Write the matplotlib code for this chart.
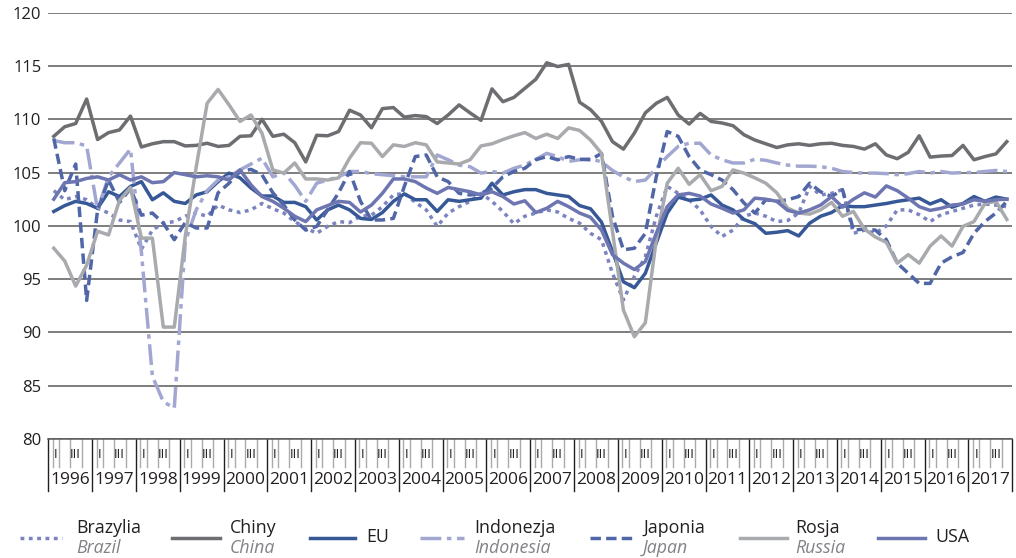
import matplotlib
matplotlib.use("Agg")
import matplotlib.pyplot as plt
import matplotlib.transforms as mtransforms
from matplotlib.lines import Line2D
import numpy as np

plt.rcParams['font.family'] = ['Open Sans', 'DejaVu Sans']

# quarterly index values, 1996 Q1 .. 2017 Q4
years = list(range(1996, 2018))
quarter_labels = ["I", "III"]
labels_pl = ["Brazylia", "Chiny", "EU", "Indonezja", "Japonia", "Rosja", "USA"]
labels_en = ["Brazil", "China", "", "Indonesia", "Japan", "Russia", ""]

brazylia = [103.3, 102.45, 102.75, 102.45, 101.65, 101.2, 100.55, 100.4,
            97.8, 99.6, 100.25, 100.4, 100.9, 101.2, 100.9, 101.95,
            101.5, 101.25, 101.5, 102.1, 101.6, 101.2, 100.4, 99.8,
            99.3, 99.95, 100.4, 100.3, 100.9, 101.0, 101.8, 102.9,
            103.05, 102.2, 101.5, 99.95, 101.2, 101.8, 102.3, 103.05,
            102.3, 101.35, 100.2, 100.9, 101.2, 101.5, 101.3, 100.7,
            100.25, 99.3, 98.7, 95.55, 93.05, 95.25, 97.1, 100.9,
            103.7, 103.05, 102.45, 101.5, 99.95, 99.0, 99.6, 100.9,
            101.2, 100.9, 100.4, 100.5, 101.2, 103.7, 102.9, 103.05,
            103.4, 99.3, 99.6, 99.3, 100.0, 101.5, 101.5, 101.05,
            100.4, 101.05, 101.35, 101.65, 101.95, 102.05, 101.95, 101.8]

chiny = [108.4, 109.3, 109.6, 111.9, 108.1, 108.75, 109.0, 110.3,
         107.4, 107.7, 107.9, 107.9, 107.5, 107.55, 107.75, 107.45,
         107.55, 108.4, 108.45, 110.0, 108.4, 108.6, 107.8, 106.0,
         108.5, 108.45, 108.85, 110.85, 110.4, 109.2, 111.0, 111.1,
         110.2, 110.35, 110.25, 109.6, 110.4, 111.35, 110.6, 109.9,
         112.85, 111.65, 112.05, 112.9, 113.75, 115.3, 114.95, 115.15,
         111.6, 110.9, 109.8, 107.9, 107.2, 108.7, 110.6, 111.5,
         112.05, 110.4, 109.55, 110.55, 109.8, 109.65, 109.4, 108.55,
         108.05, 107.7, 107.35, 107.6, 107.7, 107.55, 107.7, 107.75,
         107.55, 107.45, 107.2, 107.7, 106.65, 106.3, 106.9, 108.45,
         106.45, 106.55, 106.6, 107.55, 106.2, 106.5, 106.75, 107.9]

eu = [101.35, 101.9, 102.3, 102.1, 101.65, 103.2, 102.75, 103.7,
      104.15, 102.45, 103.1, 102.3, 102.1, 102.9, 103.2, 104.15,
      104.95, 104.5, 103.55, 102.8, 102.8, 102.2, 102.2, 101.8,
      100.55, 101.5, 101.95, 101.5, 100.7, 100.6, 101.25, 102.3,
      103.0, 102.45, 102.45, 101.35, 102.45, 102.3, 102.45, 102.6,
      104.0, 102.9, 103.2, 103.4, 103.4, 103.05, 102.9, 102.75,
      101.9, 101.6, 100.35, 97.6, 94.75, 94.2, 95.55, 98.4,
      101.2, 102.7, 102.4, 102.5, 102.9, 101.95, 101.5, 100.6,
      100.2, 99.3, 99.4, 99.55, 99.05, 100.25, 100.9, 101.25,
      101.9, 101.8, 101.8, 101.95, 102.1, 102.3, 102.45, 102.6,
      102.05, 102.45, 101.75, 102.1, 102.75, 102.3, 102.7, 102.5]

indonezja = [108.0, 107.8, 107.8, 107.5, 101.5, 104.6, 105.9, 107.2,
             97.5, 85.9, 83.5, 82.9, 98.5, 101.5, 103.3, 104.3,
             104.6, 105.25, 105.8, 106.35, 104.6, 105.0, 103.8, 102.3,
             104.0, 104.3, 104.6, 105.1, 105.1, 104.9, 104.8, 104.7,
             104.6, 104.6, 104.6, 106.65, 106.2, 105.7, 105.55, 104.95,
             105.1, 104.95, 105.4, 105.7, 106.25, 106.8, 106.5, 106.05,
             106.2, 106.3, 106.0, 105.2, 104.6, 104.15, 104.3, 105.4,
             106.5, 107.45, 107.75, 107.75, 106.65, 106.2, 105.9, 105.9,
             106.25, 106.15, 105.9, 105.7, 105.6, 105.6, 105.55, 105.4,
             105.1, 105.0, 104.95, 104.95, 104.9, 104.8, 104.9, 105.1,
             104.95, 105.1, 104.95, 105.0, 105.0, 105.1, 105.2, 105.1]

japonia = [108.2, 103.3, 105.8, 93.0, 101.5, 104.3, 102.2, 103.5,
           101.0, 101.2, 100.25, 98.7, 100.3, 99.8, 99.8, 103.1,
           104.0, 105.1, 105.3, 104.8, 103.1, 101.95, 100.55, 99.6,
           99.95, 101.5, 103.1, 105.1, 102.3, 100.55, 100.55, 100.7,
           103.7, 106.5, 106.65, 104.6, 104.15, 103.05, 102.9, 103.05,
           103.55, 104.6, 105.1, 105.4, 106.2, 106.5, 106.2, 106.5,
           106.25, 106.2, 106.8, 100.9, 97.75, 97.9, 99.3, 104.6,
           108.85, 108.4, 106.5, 105.25, 104.8, 104.3, 103.4, 102.15,
           101.2, 102.45, 102.3, 102.45, 102.75, 104.0, 103.2, 102.75,
           103.4, 99.6, 99.7, 99.6, 98.7, 96.5, 95.55, 94.6,
           94.6, 96.5, 97.1, 97.5, 99.3, 100.4, 101.2, 102.3]

rosja = [97.9, 96.7, 94.35, 96.3, 99.5, 99.15, 102.4, 103.6,
         98.85, 98.85, 90.5, 90.5, 99.0, 105.5, 111.5, 112.8,
         111.35, 109.8, 110.4, 108.7, 105.25, 104.95, 105.9, 104.4,
         104.4, 104.3, 104.5, 106.35, 107.8, 107.75, 106.5, 107.6,
         107.45, 107.8, 107.6, 106.0, 105.9, 105.8, 106.2, 107.5,
         107.7, 108.1, 108.45, 108.75, 108.2, 108.6, 108.2, 109.2,
         108.95, 108.05, 106.8, 99.5, 92.1, 89.6, 90.9, 98.7,
         104.0, 105.4, 103.9, 104.8, 103.3, 103.7, 105.25, 104.95,
         104.5, 104.0, 103.1, 101.65, 101.2, 101.1, 101.5, 102.2,
         100.9, 101.35, 99.7, 98.95, 98.45, 96.5, 97.3, 96.5,
         98.1, 99.05, 98.1, 99.95, 100.4, 102.1, 102.3, 100.6]

usa = [102.5, 104.05, 104.15, 104.45, 104.6, 104.3, 104.8, 104.3,
       104.6, 104.05, 104.15, 105.0, 104.8, 104.6, 104.7, 104.6,
       104.3, 105.25, 103.85, 102.75, 102.3, 101.65, 100.9, 100.4,
       101.5, 101.9, 102.3, 102.2, 101.3, 101.95, 103.05, 104.4,
       104.4, 104.15, 103.55, 103.05, 103.6, 103.4, 103.2, 102.9,
       103.2, 102.75, 102.05, 102.35, 101.25, 101.65, 102.3, 101.8,
       101.2, 100.8, 99.6, 97.3, 96.5, 95.9, 96.65, 99.3,
       101.8, 102.9, 103.05, 102.8, 102.05, 101.65, 101.2, 101.5,
       102.6, 102.5, 102.3, 101.45, 101.2, 101.5, 101.95, 102.75,
       101.75, 102.5, 103.1, 102.7, 103.75, 103.3, 102.6, 101.8,
       101.45, 101.65, 101.95, 102.05, 102.45, 102.3, 102.45, 102.5]

values = [brazylia, chiny, eu, indonezja, japonia, rosja, usa]
colors = ['#7c84c0', '#6d6e71', '#375897', '#a2a7d1', '#5066a7', '#a8aaad', '#6e76b2']
styles = [(0, (1.1, 1.3)), '-', '-', (0, (6, 1.6, 1.3, 1.6)), (0, (3, 1.5)), '-', '-']
order = [5, 1, 3, 4, 0, 6, 2]

W, H = 1016, 558
fig = plt.figure(figsize=(W / 100, H / 100), dpi=100)
x0, x1, ytop, ybot = 48.3, 1012.3, 12.7, 439
ax = fig.add_axes([x0 / W, 1 - ybot / H, (x1 - x0) / W, (ybot - ytop) / H])

n = len(chiny)
x = np.arange(n) + 0.5
for i in order:
    ax.plot(x, values[i], color=colors[i], linestyle=styles[i], lw=2.5,
            dash_capstyle='butt', solid_joinstyle='round', zorder=3 + i * 0.1)

ax.set_xlim(0, n)
ax.set_ylim(80, 120)
ax.set_yticks(range(80, 121, 5))
ax.set_xticks([])
ax.yaxis.grid(True, color='#5a5a5a', lw=1.1)
ax.set_axisbelow(True)
for s in ['left', 'right', 'top']:
    ax.spines[s].set_visible(False)
ax.spines['bottom'].set_color('#5a5a5a')
ax.spines['bottom'].set_linewidth(1.1)
ax.tick_params(axis='y', length=0, pad=5, labelsize=12, labelcolor='#231f20')

# category axis: years with quarter marks
tr = mtransforms.blended_transform_factory(ax.transData, ax.transAxes)
for k in range(len(years) + 1):
    ax.plot([4 * k, 4 * k], [0, -0.122], transform=tr, color='#231f20', lw=1, clip_on=False)
for k, yr in enumerate(years):
    for off in [0.4, 1.0, 2.0, 3.05]:
        ax.plot([4 * k + off] * 2, [0, -0.066], transform=tr, color='#aaaaaa', lw=1, clip_on=False)
    ax.text(4 * k + 0.7, -0.0375, quarter_labels[0], transform=tr, ha='center', va='center',
            fontsize=9.5, color='#231f20')
    ax.text(4 * k + 2.5, -0.0375, quarter_labels[1], transform=tr, ha='center', va='center',
            fontsize=9.5, color='#231f20')
    ax.text(4 * k + 2, -0.096, str(yr), transform=tr, ha='center', va='center',
            fontsize=12.5, color='#231f20')

# legend below
sample_x = [(20, 62), (172, 220), (310, 355), (420, 464), (590, 635), (740, 787), (878, 925)]
text_x = [76, 230, 366, 474, 643, 795, 935]
for i in range(len(labels_pl)):
    a, b = sample_x[i]
    fig.add_artist(Line2D([a / W, b / W], [1 - 538 / H] * 2, color=colors[i],
                          linestyle=styles[i], lw=2.5, dash_capstyle='butt'))
    if labels_en[i]:
        fig.text(text_x[i] / W, 1 - 528 / H, labels_pl[i], fontsize=12.8,
                 color='#231f20', va='center')
        fig.text(text_x[i] / W, 1 - 548 / H, labels_en[i], fontsize=12.8,
                 color='#808285', style='italic', va='center')
    else:
        fig.text(text_x[i] / W, 1 - 537 / H, labels_pl[i], fontsize=12.8,
                 color='#231f20', va='center')

fig.savefig('out.png', dpi=100)
